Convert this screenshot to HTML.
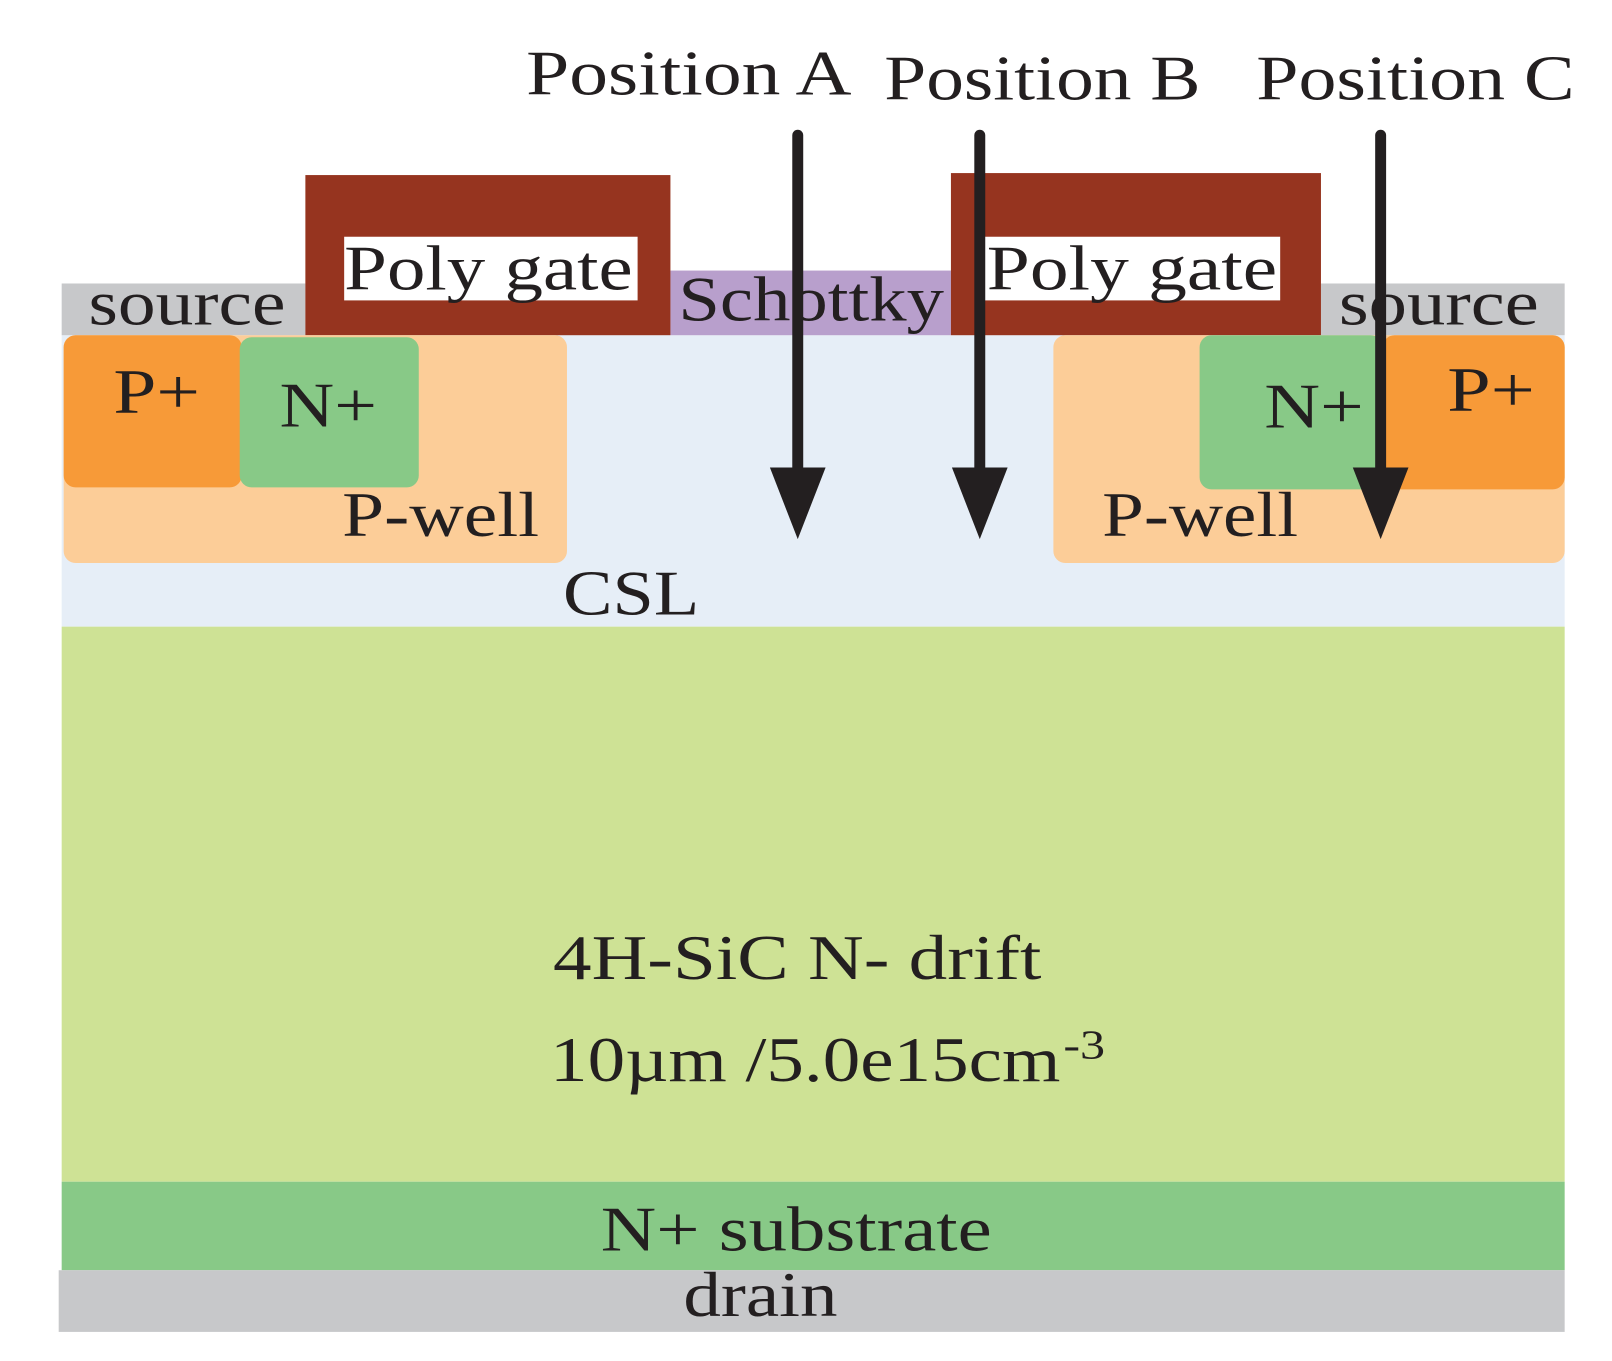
<!DOCTYPE html>
<html><head><meta charset="utf-8"><style>
html,body{margin:0;padding:0;background:#fff;width:1612px;height:1361px;overflow:hidden}
svg{display:block}
text{font-family:"Liberation Serif",serif;fill:#231f20}
</style></head><body>
<svg width="1612" height="1361" viewBox="0 0 1612 1361" xmlns="http://www.w3.org/2000/svg">
<g transform="scale(0.9947)">
<rect x="62" y="337" width="1511" height="293" fill="#e6eef7"/>
<rect x="62" y="630" width="1511" height="558" fill="#cee295"/>
<rect x="62" y="1188" width="1511" height="89" fill="#88c987"/>
<rect x="59" y="1277" width="1514" height="62" fill="#c7c8ca"/>
<rect x="62" y="285" width="245" height="52" fill="#c7c8ca"/>
<rect x="1328" y="285" width="245" height="52" fill="#c7c8ca"/>
<rect x="674" y="272" width="282" height="65" fill="#b89fcc"/>
<rect x="307" y="176" width="367" height="161" fill="#96341f"/>
<rect x="956" y="174" width="372" height="163" fill="#96341f"/>
<rect x="346" y="238" width="295" height="64" fill="#fff"/>
<rect x="990" y="238" width="297" height="64" fill="#fff"/>
<rect x="64" y="337" width="506" height="229" rx="12" fill="#fccd98"/>
<rect x="1059" y="337" width="514" height="229" rx="12" fill="#fccd98"/>
<rect x="64" y="337" width="179" height="153" rx="12" fill="#f79a38"/>
<rect x="241" y="339" width="180" height="151" rx="12" fill="#88c987"/>
<rect x="1390" y="337" width="183" height="155" rx="12" fill="#f79a38"/>
<rect x="1206" y="337" width="184" height="155" rx="12" fill="#88c987"/>

<g font-size="64">
<text x="529" y="95" textLength="327" lengthAdjust="spacingAndGlyphs">Position A</text>
<text x="889" y="100" textLength="318" lengthAdjust="spacingAndGlyphs">Position B</text>
<text x="1263" y="100" textLength="320" lengthAdjust="spacingAndGlyphs">Position C</text>
<text x="346" y="291" textLength="290" lengthAdjust="spacingAndGlyphs">Poly gate</text>
<text x="992" y="291" textLength="292" lengthAdjust="spacingAndGlyphs">Poly gate</text>
<text x="89" y="326" textLength="198" lengthAdjust="spacingAndGlyphs">source</text>
<text x="1346" y="326" textLength="201" lengthAdjust="spacingAndGlyphs">source</text>
<text x="682" y="322" textLength="267" lengthAdjust="spacingAndGlyphs">Schottky</text>
<text x="114" y="415" textLength="87" lengthAdjust="spacingAndGlyphs">P+</text>
<text x="281" y="429" textLength="98" lengthAdjust="spacingAndGlyphs">N+</text>
<text x="1271" y="430" textLength="100" lengthAdjust="spacingAndGlyphs">N+</text>
<text x="1455" y="413" textLength="88" lengthAdjust="spacingAndGlyphs">P+</text>
<text x="344" y="539" textLength="198" lengthAdjust="spacingAndGlyphs">P-well</text>
<text x="1108" y="539" textLength="197" lengthAdjust="spacingAndGlyphs">P-well</text>
<text x="566" y="618" textLength="137" lengthAdjust="spacingAndGlyphs">CSL</text>
<text x="556" y="984" textLength="491" lengthAdjust="spacingAndGlyphs">4H-SiC N- drift</text>
<text x="553" y="1087" textLength="513" lengthAdjust="spacingAndGlyphs">10µm /5.0e15cm</text>
<text x="1069" y="1064" font-size="42" textLength="42" lengthAdjust="spacingAndGlyphs">-3</text>
<text x="604" y="1257" textLength="393" lengthAdjust="spacingAndGlyphs">N+ substrate</text>
<text x="687" y="1323" textLength="155" lengthAdjust="spacingAndGlyphs">drain</text>
</g>

<g stroke="#231f20" stroke-width="11" stroke-linecap="round">
<line x1="802" y1="136" x2="802" y2="480"/>
<line x1="985" y1="136" x2="985" y2="480"/>
<line x1="1388" y1="136" x2="1388" y2="480"/>
</g>
<g fill="#231f20">
<polygon points="774,470 830,470 802,542"/>
<polygon points="957,470 1013,470 985,542"/>
<polygon points="1360,470 1416,470 1388,542"/>
</g>
</g>
</svg>
</body></html>
